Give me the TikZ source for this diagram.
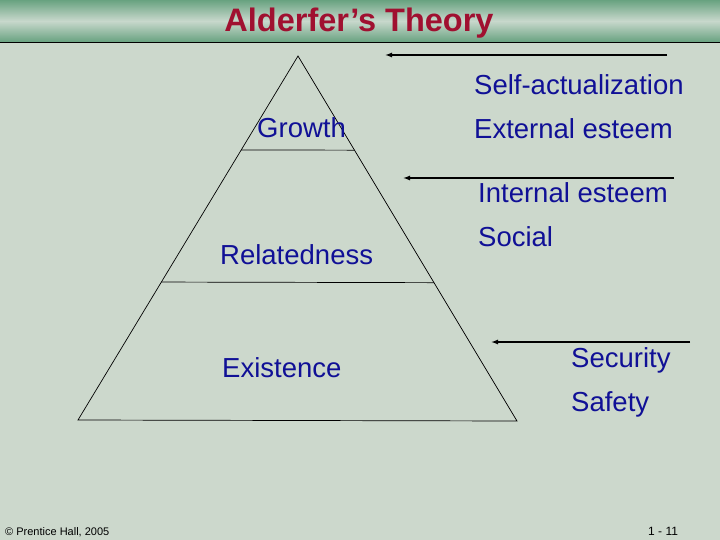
\documentclass[tikz,border=0pt]{standalone}
\usepackage{fontspec}
\setmainfont{Liberation Sans}
\usetikzlibrary{calc,arrows.meta}
\definecolor{slidebg}{RGB}{204,216,204}
\definecolor{bandgreen}{RGB}{104,162,128}
\definecolor{bandlight}{RGB}{200,216,204}
\definecolor{titlered}{RGB}{160,16,48}
\definecolor{labelblue}{RGB}{16,16,150}

\begin{document}
\begin{tikzpicture}[
        x=1pt,y=-1pt,
        every node/.style={inner sep=0pt},
        level/.style={font=\fontsize{27.5}{27.5}\selectfont,text=labelblue,anchor=base west},
        need/.style={font=\fontsize{27.5}{27.5}\selectfont,text=labelblue,anchor=base west},
        edge/.style={line width=0.7pt},
        pointer/.style={line width=1.3pt,-{Latex[length=7pt,width=5pt]}},
      ]
      \useasboundingbox (0,0) rectangle (720,540);
      \fill[slidebg] (0,0) rectangle (720,540);
      % header band
      \shade[top color=bandgreen,bottom color=bandgreen,middle color=bandlight]
        (0,0) rectangle (720,42);
      \draw[line width=1.5pt] (0,42.5) -- (720,42.5);
      \node[anchor=base,text=titlered,font=\bfseries\fontsize{32.5}{32.5}\selectfont]
        (title) at (359,32) {Alderfer’s Theory};
      % pyramid
      \coordinate (apex) at (298,56);
      \coordinate (bl) at (78,420);
      \coordinate (br) at (517,421);
      \coordinate (gl) at ($(apex)!0.258!(bl)$);
      \coordinate (gr) at ($(apex)!0.258!(br)$);
      \coordinate (rl) at ($(apex)!0.621!(bl)$);
      \coordinate (rr) at ($(apex)!0.621!(br)$);
      \draw[edge] (apex) -- (bl) -- (br) -- cycle;
      \draw[edge] (gl) -- (gr);
      \draw[edge] (rl) -- (rr);
      \node[level] (growth) at (257,137.5) {Growth};
      \node[level] (related) at (220,264) {Relatedness};
      \node[level] (exist) at (222,377) {Existence};
      % Maslow needs
      \node[need] (selfact) at (474,95) {Self-actualization};
      \node[need] (extest) at (474,139) {External esteem};
      \node[need] (intest) at (478,203) {Internal esteem};
      \node[need] (social) at (478,247) {Social};
      \node[need] (security) at (571,367) {Security};
      \node[need] (safety) at (571,411) {Safety};
      % arrows
      \coordinate (a1s) at (667,55);
      \coordinate (a1e) at (385,55);
      \coordinate (a2s) at (674,178);
      \coordinate (a2e) at (403,178);
      \coordinate (a3s) at (690,342);
      \coordinate (a3e) at (491,342);
      \draw[pointer] (a1s) -- (a1e);
      \draw[pointer] (a2s) -- (a2e);
      \draw[pointer] (a3s) -- (a3e);
      % footer
      \node[anchor=base west,font=\fontsize{11}{11}\selectfont] (copy) at (5,535)
        {© Prentice Hall, 2005};
      \node[anchor=base west,font=\fontsize{12}{12}\selectfont] (page) at (648,535)
        {1 - 11};
      \end{tikzpicture}
\end{document}
